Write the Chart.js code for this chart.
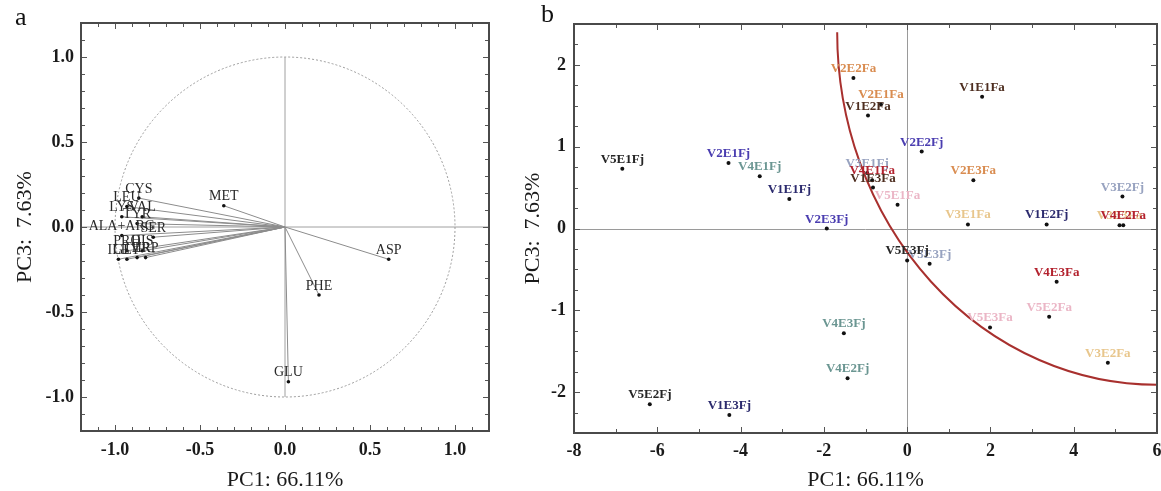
<!DOCTYPE html>
<html><head><meta charset="utf-8">
<script src="https://cdn.jsdelivr.net/npm/chart.js@4.4.1/dist/chart.umd.min.js"></script>
<style>
html,body{margin:0;padding:0;background:#fff;}
body{width:1161px;height:491px;position:relative;overflow:hidden;font-family:'Liberation Serif',serif;}
#wa{position:absolute;left:0;top:0;width:500px;height:491px;}
#wb{position:absolute;left:500px;top:0;width:661px;height:491px;}
.lab{position:absolute;font-size:26px;line-height:1;color:#111;font-family:'Liberation Serif',serif;}
</style></head><body>
<div id="wa"><canvas id="ca"></canvas></div>
<div id="wb"><canvas id="cb"></canvas></div>
<div class="lab" style="left:15px;top:4px">a</div>
<div class="lab" style="left:541px;top:1px">b</div>
<script>
// ---------- Panel a: variable loadings ----------
const loadingNames = ['CYS','LEU','LYS','VAL','TYR','ALA+ARG','SER','PRO','HIS','ILE','GLY','THR','TRP','MET','ASP','PHE','GLU'];
const loadingPC1   = [-0.86,-0.93,-0.96,-0.84,-0.87,-0.96,-0.775,-0.93,-0.84,-0.98,-0.93,-0.87,-0.82,-0.36,0.61,0.20,0.02];
const loadingPC3   = [0.17,0.12,0.06,0.06,0.02,-0.05,-0.06,-0.14,-0.14,-0.19,-0.19,-0.18,-0.18,0.125,-0.19,-0.40,-0.91];
const ticksA = [-1,-0.5,0,0.5,1];

// ---------- Panel b: sample scores ----------
const sampleNames = ['V2E2Fa','V1E1Fa','V2E1Fa','V1E2Fa','V2E2Fj','V5E1Fj','V2E1Fj','V4E1Fj','V1E1Fj','V2E3Fj',
  'V3E1Fj','V4E1Fa','V1E3Fa','V5E1Fa','V2E3Fa','V3E2Fj','V3E1Fa','V1E2Fj','V3E3Fa','V4E2Fa',
  'V3E3Fj','V5E3Fj','V4E3Fa','V5E2Fa','V5E3Fa','V4E3Fj','V4E2Fj','V3E2Fa','V5E2Fj','V1E3Fj'];
const samplePC1 = [-1.29,1.80,-0.63,-0.94,0.35,-6.84,-4.29,-3.54,-2.83,-1.93,
  -0.96,-0.84,-0.82,-0.23,1.59,5.17,1.46,3.35,5.10,5.19,
  0.54,0.00,3.59,3.41,1.99,-1.52,-1.43,4.82,-6.18,-4.27];
const samplePC3 = [1.84,1.61,1.52,1.38,0.94,0.73,0.80,0.64,0.36,0.00,
  0.68,0.59,0.50,0.29,0.59,0.39,0.05,0.05,0.04,0.04,
  -0.43,-0.39,-0.65,-1.08,-1.21,-1.28,-1.83,-1.64,-2.15,-2.28];
const ticksBX = [-8,-6,-4,-2,0,2,4,6];
const ticksBY = [-2,-1,0,1,2];
// red boundary curve (quarter ellipse): centre and radii in data units
const curveCentre = [6, 2.4];
const curveRadii  = [7.68, 4.31];

// ---------- styles ----------
const F = "'Liberation Serif', 'Times New Roman', serif";
const typeColors = {V1Fj:'#2c2b6e', V2Fj:'#4a3db0', V3Fj:'#98a3c0', V4Fj:'#6b9692', V5Fj:'#262626',
                    V1Fa:'#4e2e20', V2Fa:'#d98c50', V3Fa:'#e8c68c', V4Fa:'#b3222e', V5Fa:'#ebb6c6'};
const colorOf = n => typeColors[n.slice(0,2) + n.slice(4)];

function range(a, b, step){ const out=[]; const n=Math.round((b-a)/step); for(let i=0;i<=n;i++) out.push(+(a+i*step).toFixed(4)); return out; }

function framePlugin(xMinor, yMinor, xMajor, yMajor){
  return {
    id:'frame',
    afterDraw(chart){
      const {ctx, chartArea:a, scales:{x,y}} = chart;
      ctx.save();
      ctx.strokeStyle = '#555'; ctx.lineWidth = 1;
      ctx.beginPath();
      xMinor.forEach(v=>{
        const p = Math.round(x.getPixelForValue(v))+0.5;
        if (p < a.left+1 || p > a.right-1) return;
        const L = xMajor.includes(v) ? 6 : 4;
        ctx.moveTo(p, a.bottom); ctx.lineTo(p, a.bottom-L);
        ctx.moveTo(p, a.top); ctx.lineTo(p, a.top+L);
      });
      yMinor.forEach(v=>{
        const p = Math.round(y.getPixelForValue(v))+0.5;
        if (p < a.top+1 || p > a.bottom-1) return;
        const L = yMajor.includes(v) ? 6 : 4;
        ctx.moveTo(a.left, p); ctx.lineTo(a.left+L, p);
        ctx.moveTo(a.right, p); ctx.lineTo(a.right-L, p);
      });
      ctx.stroke();
      ctx.lineWidth = 2; ctx.strokeStyle = '#4a4a4a';
      ctx.strokeRect(a.left, a.top, a.width, a.height);
      ctx.restore();
    }
  };
}

function labelPlugin(names, fontStr, colorFn, lift){
  return {
    id:'ptlabels',
    afterDatasetsDraw(chart){
      const {ctx} = chart;
      const meta = chart.getDatasetMeta(0);
      ctx.save();
      ctx.font = fontStr; ctx.textAlign = 'center'; ctx.textBaseline = 'alphabetic';
      meta.data.forEach((pt, i)=>{
        ctx.fillStyle = colorFn(names[i]);
        ctx.fillText(names[i], pt.x, pt.y - lift);
      });
      ctx.restore();
    }
  };
}

function axisCommon(min, max, tickVals, fmt, isX, size, pad, title, titlePad){
  return {
    type:'linear', position: isX ? 'bottom' : 'left', min, max,
    grid:{display:false, drawTicks:false}, border:{display:false},
    afterBuildTicks(s){ s.ticks = tickVals.map(v=>({value:v})); },
    afterFit(s){
      if (isX){ s.height = size; s.paddingLeft = 0; s.paddingRight = 0; }
      else { s.width = size; s.paddingTop = 0; s.paddingBottom = 0; }
    },
    ticks:{font:{family:F, size:18, weight:'bold'}, color:'#1a1a1a', padding:pad, maxRotation:0, autoSkip:false, callback:fmt},
    title:{display:true, text:title, color:'#1a1a1a', font:{family:F, size:22, lineHeight:1}, padding: titlePad}
  };
}

// ---------- Chart a ----------
const vectorsPlugin = {
  id:'vectors',
  beforeDatasetsDraw(chart){
    const {ctx, chartArea:a, scales:{x,y}} = chart;
    const x0 = x.getPixelForValue(0), y0 = y.getPixelForValue(0);
    ctx.save();
    // axes through origin
    ctx.strokeStyle = '#a0a0a0'; ctx.lineWidth = 1;
    ctx.beginPath();
    ctx.moveTo(a.left, y0); ctx.lineTo(a.right, y0);
    ctx.moveTo(x0, y.getPixelForValue(1)); ctx.lineTo(x0, y.getPixelForValue(-1));
    ctx.stroke();
    // unit circle
    ctx.setLineDash([2,2]); ctx.strokeStyle = '#9a9a9a';
    ctx.beginPath();
    ctx.ellipse(x0, y0, x.getPixelForValue(1)-x0, y0-y.getPixelForValue(1), 0, 0, Math.PI*2);
    ctx.stroke();
    ctx.setLineDash([]);
    // loading vectors
    ctx.strokeStyle = '#8c8c8c'; ctx.lineWidth = 1;
    ctx.beginPath();
    loadingPC1.forEach((v,i)=>{
      ctx.moveTo(x0, y0);
      ctx.lineTo(x.getPixelForValue(v), y.getPixelForValue(loadingPC3[i]));
    });
    ctx.stroke();
    ctx.restore();
  }
};

new Chart(document.getElementById('ca'), {
  type:'scatter',
  data:{datasets:[{
    data: loadingNames.map((n,i)=>({x:loadingPC1[i], y:loadingPC3[i]})),
    pointRadius:1.8, pointBackgroundColor:'#111', pointBorderWidth:0, showLine:false
  }]},
  options:{
    responsive:true, maintainAspectRatio:false, animation:false, events:[],
    layout:{padding:{top:23, right:11, left:0, bottom:0}},
    plugins:{legend:{display:false}, tooltip:{enabled:false}},
    scales:{
      x: axisCommon(-1.2, 1.2, ticksA, v=>Number(v).toFixed(1), true, 60, 9, 'PC1: 66.11%', {top:0,bottom:0}),
      y: axisCommon(-1.2, 1.2, ticksA, v=>Number(v).toFixed(1), false, 81, 7, 'PC3:  7.63%', {top:14,bottom:0})
    }
  },
  plugins:[vectorsPlugin,
    labelPlugin(loadingNames, '14px ' + F, ()=>'#2a2a2a', 5.5),
    framePlugin(range(-1.2,1.2,0.1), range(-1.2,1.2,0.1), ticksA, ticksA)]
});

// ---------- Chart b ----------
const refPlugin = {
  id:'refs',
  beforeDatasetsDraw(chart){
    const {ctx, chartArea:a, scales:{x,y}} = chart;
    const x0 = Math.round(x.getPixelForValue(0))+0.5, y0 = Math.round(y.getPixelForValue(0))+0.5;
    ctx.save();
    ctx.strokeStyle = '#9a9a9a'; ctx.lineWidth = 1;
    ctx.beginPath();
    ctx.moveTo(a.left, y0); ctx.lineTo(a.right, y0);
    ctx.moveTo(x0, a.top); ctx.lineTo(x0, a.bottom);
    ctx.stroke();
    // red boundary curve
    const cx = x.getPixelForValue(curveCentre[0]), cy = y.getPixelForValue(curveCentre[1]);
    const rx = cx - x.getPixelForValue(curveCentre[0]-curveRadii[0]);
    const ry = y.getPixelForValue(curveCentre[1]-curveRadii[1]) - cy;
    ctx.beginPath();
    ctx.rect(a.left, a.top, a.width, a.height); ctx.clip();
    ctx.beginPath();
    ctx.strokeStyle = '#a8302e'; ctx.lineWidth = 2;
    ctx.ellipse(cx, cy, rx, ry, 0, Math.PI/2, Math.PI);
    ctx.stroke();
    ctx.restore();
  }
};

new Chart(document.getElementById('cb'), {
  type:'scatter',
  data:{datasets:[{
    data: sampleNames.map((n,i)=>({x:samplePC1[i], y:samplePC3[i]})),
    pointRadius:2, pointBackgroundColor:'#111', pointBorderWidth:0, showLine:false
  }]},
  options:{
    responsive:true, maintainAspectRatio:false, animation:false, events:[],
    layout:{padding:{top:24, right:3, left:0, bottom:0}},
    plugins:{legend:{display:false}, tooltip:{enabled:false}},
    scales:{
      x: axisCommon(-8, 6, ticksBX, v=>String(v), true, 58, 8, 'PC1: 66.11%', {top:0,bottom:0}),
      y: axisCommon(-2.5, 2.5, ticksBY, v=>String(v), false, 74, 8, 'PC3:  7.63%', {top:22,bottom:0})
    }
  },
  plugins:[refPlugin,
    labelPlugin(sampleNames, 'bold 13px ' + F, colorOf, 6),
    framePlugin(range(-8,6,1), range(-2.5,2.5,0.25), ticksBX, ticksBY)]
});
</script>
</body></html>
